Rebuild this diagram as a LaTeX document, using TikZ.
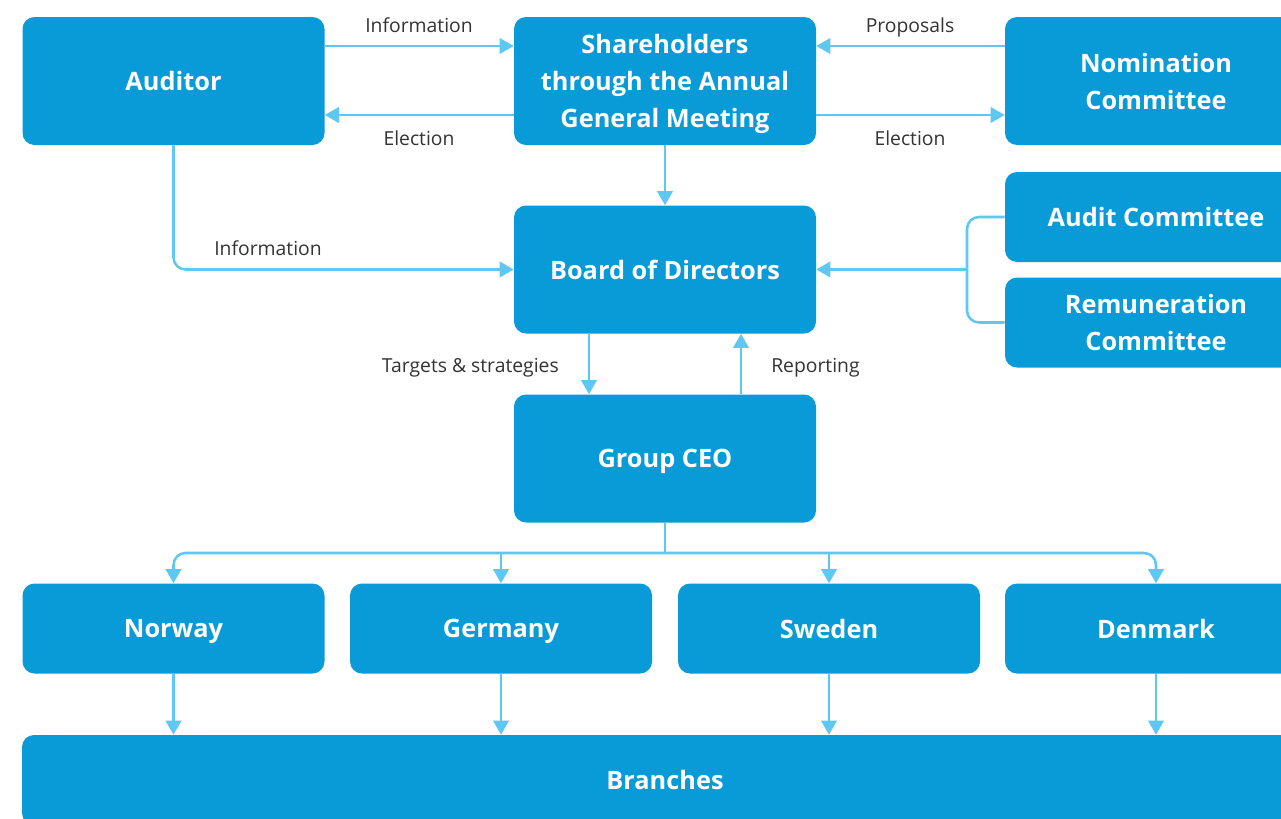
\documentclass[tikz,border=0pt]{standalone}
\usepackage{fontspec}
\setmainfont{Open Sans}
\usetikzlibrary{arrows.meta,calc}
\definecolor{boxblue}{HTML}{089BD8}
\definecolor{arrowblue}{HTML}{5EC8F2}
\definecolor{labelgray}{HTML}{333333}
\tikzset{
  box/.style={fill=boxblue, rounded corners=9pt, text=white, align=center, inner sep=0pt,
    minimum width=226.5pt, font=\fontsize{19}{27.75}\selectfont\bfseries, text depth=0pt},
  tallbox/.style={box, minimum height=96pt},
  shortbox/.style={box, minimum height=67.5pt},
  wire/.style={draw=arrowblue, line width=1.9pt},
  conn/.style={wire, -{Triangle[length=10.5pt,width=11.5pt]}},
  lab/.style={text=labelgray, inner sep=0pt, font=\fontsize{14.5}{17}\selectfont, text depth=0pt},
}
\begin{document}
\begin{tikzpicture}[x=0.75pt,y=-0.75pt]
\useasboundingbox (0,0) rectangle (1281,818);
\clip (0,0) rectangle (1281,818);
% nodes
\node[tallbox] (aud) at (173.5,81) {Auditor};
\node[tallbox] (sh) at (665,81) {Shareholders\\through the Annual\\General Meeting};
\node[tallbox] (nom) at (1156,81) {Nomination\\Committee};
\node[tallbox] (bod) at (665,269.5) {Board of Directors};
\node[shortbox] (ac) at (1156,217) {Audit Committee};
\node[shortbox] (rc) at (1156,322.5) {Remuneration\\Committee};
\node[tallbox] (ceo) at (665,458.5) {Group CEO};
\node[shortbox] (nor) at (173.5,628.5) {Norway};
\node[shortbox] (ger) at (501,628.5) {Germany};
\node[shortbox] (swe) at (829,628.5) {Sweden};
\node[shortbox] (den) at (1156,628.5) {Denmark};
\node[shortbox, minimum width=964.5pt] (br) at (665,780) {Branches};
% top row
\draw[conn] ($(aud.east)+(0,-35)$) -- ($(sh.west)+(0,-35)$);
\draw[conn] ($(sh.west)+(0,34)$) -- ($(aud.east)+(0,34)$);
\draw[conn] ($(nom.west)+(0,-35)$) -- ($(sh.east)+(0,-35)$);
\draw[conn] ($(sh.east)+(0,34)$) -- ($(nom.west)+(0,34)$);
\node[lab] (l1) at (419,25) {Information};
\node[lab] (l2) at (419,138) {Election};
\node[lab] (l3) at (910,25) {Proposals};
\node[lab] (l4) at (910,138) {Election};
% shareholders to board
\draw[conn] (sh.south) -- (bod.north);
% auditor to board
\draw[conn, rounded corners=9pt] (aud.south) |- (bod.west);
\node[lab] (l5) at (268,248) {Information};
% committees
\coordinate (jn) at (967,269.5);
\draw[wire, rounded corners=9pt] (ac.west) -| (jn) |- (rc.west);
\draw[conn] (jn) -- (bod.east);
% board <-> ceo
\draw[conn] ($(bod.south)+(-76,0)$) -- ($(ceo.north)+(-76,0)$);
\draw[conn] ($(ceo.north)+(76,0)$) -- ($(bod.south)+(76,0)$);
\node[lab, anchor=east] (l6) at (559,365) {Targets \& strategies};
\node[lab, anchor=west] (l7) at (771,365) {Reporting};
% ceo to countries
\coordinate (bus) at (665,553);
\draw[wire] (ceo.south) -- (bus);
\draw[conn, rounded corners=9pt] (bus) -| (nor.north);
\draw[conn, rounded corners=9pt] (bus) -| (den.north);
\draw[conn] (ger.north |- bus) -- (ger.north);
\draw[conn] (swe.north |- bus) -- (swe.north);
% countries to branches
\draw[conn] (nor.south) -- (nor.south |- br.north);
\draw[conn] (ger.south) -- (ger.south |- br.north);
\draw[conn] (swe.south) -- (swe.south |- br.north);
\draw[conn] (den.south) -- (den.south |- br.north);
\end{tikzpicture}
\end{document}
